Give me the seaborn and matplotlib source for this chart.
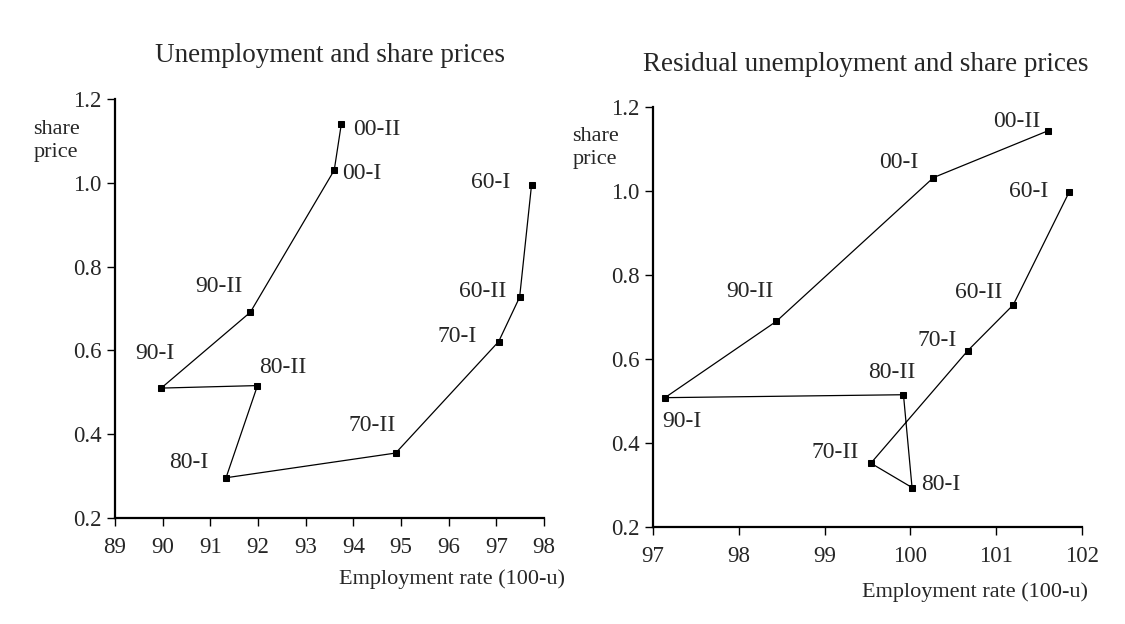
import matplotlib
matplotlib.use('Agg')
import matplotlib.pyplot as plt
import seaborn as sns
import pandas as pd

# periods in drawing order
periods = ['60-I', '60-II', '70-I', '70-II', '80-I', '80-II', '90-I', '90-II', '00-I', '00-II']

# left panel: employment rate vs share price
emp_left = [97.74, 97.49, 97.05, 94.89, 91.33, 91.99, 89.97, 91.84, 93.60, 93.75]
price_left = [0.995, 0.727, 0.621, 0.355, 0.296, 0.516, 0.510, 0.691, 1.030, 1.141]

# right panel: residual employment rate vs share price
emp_right = [101.85, 101.20, 100.67, 99.54, 100.02, 99.92, 97.14, 98.44, 100.27, 101.60]
price_right = [0.997, 0.729, 0.620, 0.352, 0.294, 0.515, 0.508, 0.690, 1.032, 1.143]

left_xticks = [89, 90, 91, 92, 93, 94, 95, 96, 97, 98]
right_xticks = [97, 98, 99, 100, 101, 102]
yticks = [0.2, 0.4, 0.6, 0.8, 1.0, 1.2]

sns.set_style('ticks')
plt.rcParams['font.family'] = ['Liberation Serif', 'DejaVu Serif']
plt.rcParams['font.size'] = 16

# label offsets in pixels (dx, dy, ha)
left_offsets = {
    '60-I': (-21, 2, 'right'), '60-II': (-13, 6, 'right'), '70-I': (-22, 5, 'right'),
    '70-II': (0, 28, 'right'), '80-I': (-18, 15, 'right'), '80-II': (2, 18, 'left'),
    '90-I': (-6, 35, 'center'), '90-II': (-8, 26, 'right'), '00-I': (8, -3, 'left'),
    '00-II': (12, -6, 'left'),
}
right_offsets = {
    '60-I': (-21, 1, 'right'), '60-II': (-11, 12, 'right'), '70-I': (-11, 10, 'right'),
    '70-II': (-12, 11, 'right'), '80-I': (9, 3, 'left'), '80-II': (-12, 22, 'center'),
    '90-I': (-3, -24, 'left'), '90-II': (-3, 30, 'right'), '00-I': (-15, 15, 'right'),
    '00-II': (-7, 9, 'right'),
}

fig = plt.figure(figsize=(11.25, 6.24), dpi=100)
ax1 = fig.add_axes([0.1022, 0.1699, 0.3813, 0.6715])
ax2 = fig.add_axes([0.5804, 0.1554, 0.3813, 0.6731])


def draw(ax, x, y, xlim, xticks, offsets, title, title_xy, xlab_pos, sp_pos):
    df = pd.DataFrame({'emp': x, 'price': y, 'period': periods})
    sns.lineplot(data=df, x='emp', y='price', sort=False, color='black', lw=0.9,
                 marker='s', markersize=4.8, markeredgecolor='black', ax=ax, clip_on=False)
    for _, r in df.iterrows():
        dx, dy, ha = offsets[r['period']]
        ax.annotate(r['period'], (r['emp'], r['price']), xytext=(dx, dy),
                    textcoords='offset pixels', ha=ha, va='center', fontsize=17)
    ax.set_xlim(*xlim)
    ax.set_ylim(0.2, 1.2)
    ax.set_xticks(xticks)
    ax.set_xticklabels([str(t) for t in xticks])
    ax.set_yticks(yticks)
    ax.set_yticklabels([f'{t:.1f}' for t in yticks])
    sns.despine(ax=ax)
    for s in ['left', 'bottom']:
        ax.spines[s].set_linewidth(1.6)
        ax.spines[s].set_color('black')
    ax.tick_params(direction='out', length=6, width=1, color='black', labelsize=16.5)
    ax.tick_params(axis='x', pad=8)
    ax.tick_params(axis='y', pad=3.5)
    ax.set_xlabel('Employment rate (100-u)', ha='right', va='center', fontsize=16)
    ax.xaxis.set_label_coords(*xlab_pos)
    ax.set_ylabel('')
    ax.text(sp_pos[0], sp_pos[1], 'share\nprice', transform=ax.transAxes,
            ha='left', va='center', linespacing=1.3, fontsize=16)
    ax.set_title(title, x=title_xy[0], y=title_xy[1], va='center', fontsize=19.5, pad=0)


draw(ax1, emp_left, price_left, (89, 98), left_xticks, left_offsets,
     'Unemployment and share prices', (0.501, 1.103), (1.049, -0.146), (-0.19, 0.900))
draw(ax2, emp_right, price_right, (97, 102), right_xticks, right_offsets,
     'Residual unemployment and share prices', (0.497, 1.102), (1.014, -0.155), (-0.188, 0.902))

fig.savefig('out.png', dpi=100)
